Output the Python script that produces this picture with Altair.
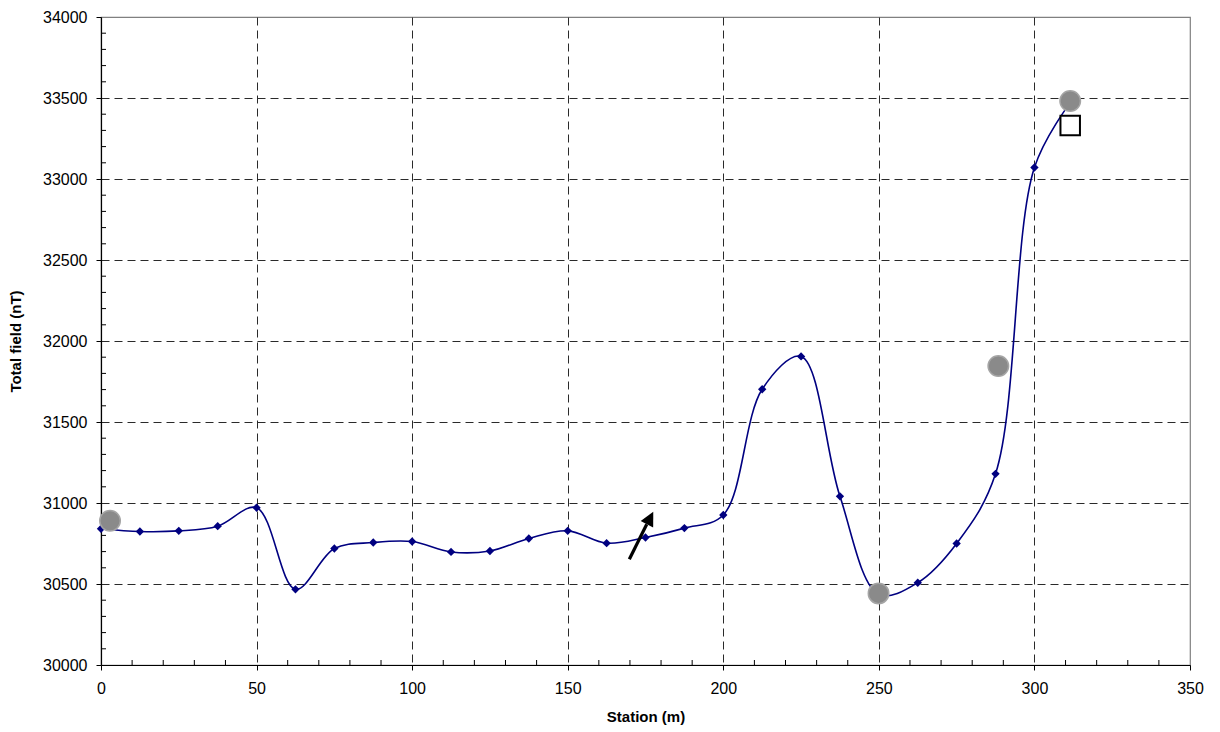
import altair as alt
import pandas as pd

# ---- data ----
station = [0, 12.5, 25, 37.5, 50, 62.5, 75, 87.5, 100, 112.5, 125, 137.5, 150,
           162.5, 175, 187.5, 200, 212.5, 225, 237.5, 250, 262.5, 275, 287.5, 300, 311.5]
field = [30841, 30824, 30828, 30857, 30971, 30467, 30719, 30756, 30762, 30698, 30704,
         30781, 30828, 30752, 30787, 30845, 30926, 31702, 31905, 31041, 30435, 30508,
         30750, 31180, 33071, 33470]

circle_x = [2.9, 249.9, 288.4, 311.5]
circle_y = [30890, 30442, 31846, 33482]

square_x = [311.5]
square_y = [33330]

arrow_tail = [169.8, 30653]
arrow_base = [175.4, 30869]
arrow_tip = [177.5, 30946]

x_major = [0, 50, 100, 150, 200, 250, 300, 350]
y_major = [30000, 30500, 31000, 31500, 32000, 32500, 33000, 33500, 34000]
x_minor = [v for v in range(0, 351, 10) if v % 50 != 0]
y_minor = [v for v in range(30000, 34001, 100) if v % 500 != 0]

FONT = "Liberation Sans"
W, H = 1089, 648

df = pd.DataFrame({"x": station, "y": field})
dc = pd.DataFrame({"x": circle_x, "y": circle_y})
ds = pd.DataFrame({"x": square_x, "y": square_y})
da = pd.DataFrame({"x": [arrow_tail[0]], "y": [arrow_tail[1]],
                   "x2": [arrow_base[0]], "y2": [arrow_base[1]]})
dt = pd.DataFrame({"x": [arrow_tip[0]], "y": [arrow_tip[1]]})

xs = alt.Scale(domain=[0, 350], nice=False, zero=False)
ys = alt.Scale(domain=[30000, 34000], nice=False, zero=False)

x_axis = alt.Axis(
    values=x_major, format="d", title="Station (m)", titleFont=FONT, titleFontSize=15,
    titleFontWeight="bold", titleColor="black", titlePadding=13,
    labelFont=FONT, labelFontSize=16, labelColor="black", labelPadding=10, labelFlush=False,
    tickSize=5, tickColor="black", domainColor="black", domainWidth=1.2,
    grid=True, gridColor="#2a2a2a", gridDash=[8, 5], gridWidth=1,
    gridOpacity=alt.condition("datum.value == 0 || datum.value == 350", alt.value(0), alt.value(1)),
)
y_axis = alt.Axis(
    values=y_major, format="d", title="Total field (nT)", titleFont=FONT, titleFontSize=15,
    titleFontWeight="bold", titleColor="black", titlePadding=19,
    labelFont=FONT, labelFontSize=16, labelColor="black", labelPadding=9, labelFlush=False,
    tickSize=5, tickColor="black", domainColor="black", domainWidth=1.2,
    grid=True, gridColor="#2a2a2a", gridDash=[8, 5], gridWidth=1,
    gridOpacity=alt.condition("datum.value == 30000 || datum.value == 34000", alt.value(0), alt.value(1)),
)

line = alt.Chart(df).mark_line(color="#000080", strokeWidth=1.6, interpolate="catmull-rom", clip=False).encode(
    x=alt.X("x:Q", scale=xs, axis=x_axis),
    y=alt.Y("y:Q", scale=ys, axis=y_axis),
)
pts = alt.Chart(df).mark_point(shape="diamond", filled=True, color="#000080", size=70, opacity=1, clip=False).encode(
    x=alt.X("x:Q", scale=xs), y=alt.Y("y:Q", scale=ys)
)
circles = alt.Chart(dc).mark_point(shape="circle", filled=True, fill="#8a8a8a", stroke="#a5a5a5",
                                   strokeWidth=1.5, size=420, opacity=1, clip=False).encode(
    x=alt.X("x:Q", scale=xs), y=alt.Y("y:Q", scale=ys)
)
square = alt.Chart(ds).mark_point(shape="square", filled=False, fill="white", stroke="black",
                                  strokeWidth=2, size=380, opacity=1, fillOpacity=1).encode(
    x=alt.X("x:Q", scale=xs), y=alt.Y("y:Q", scale=ys)
)
shaft = alt.Chart(da).mark_rule(color="black", strokeWidth=3.2).encode(
    x=alt.X("x:Q", scale=xs), y=alt.Y("y:Q", scale=ys), x2="x2:Q", y2="y2:Q"
)
head = alt.Chart(dt).mark_point(shape="M0,0L-0.5,1L0.5,1Z", filled=True, color="black", size=784,
                                angle=27, opacity=1).encode(
    x=alt.X("x:Q", scale=xs), y=alt.Y("y:Q", scale=ys)
)

ymin = alt.Chart(pd.DataFrame({"v": y_minor})).mark_rule(color="black", strokeWidth=1).encode(
    y=alt.Y("v:Q", scale=ys), x=alt.value(0), x2=alt.value(5)
)
xmin = alt.Chart(pd.DataFrame({"v": x_minor})).mark_rule(color="black", strokeWidth=1).encode(
    x=alt.X("v:Q", scale=xs), y=alt.value(H - 5), y2=alt.value(H)
)

chart = alt.layer(ymin, xmin, line, pts, circles, square, shaft, head).properties(
    width=W, height=H,
    autosize=alt.AutoSizeParams(type="none"),
    padding={"left": 101, "top": 17, "right": 30, "bottom": 67},
    background="white",
).configure_view(stroke="#808080", strokeWidth=1.2)

chart.save("out.html", embed_options={"renderer": "svg", "actions": False})
